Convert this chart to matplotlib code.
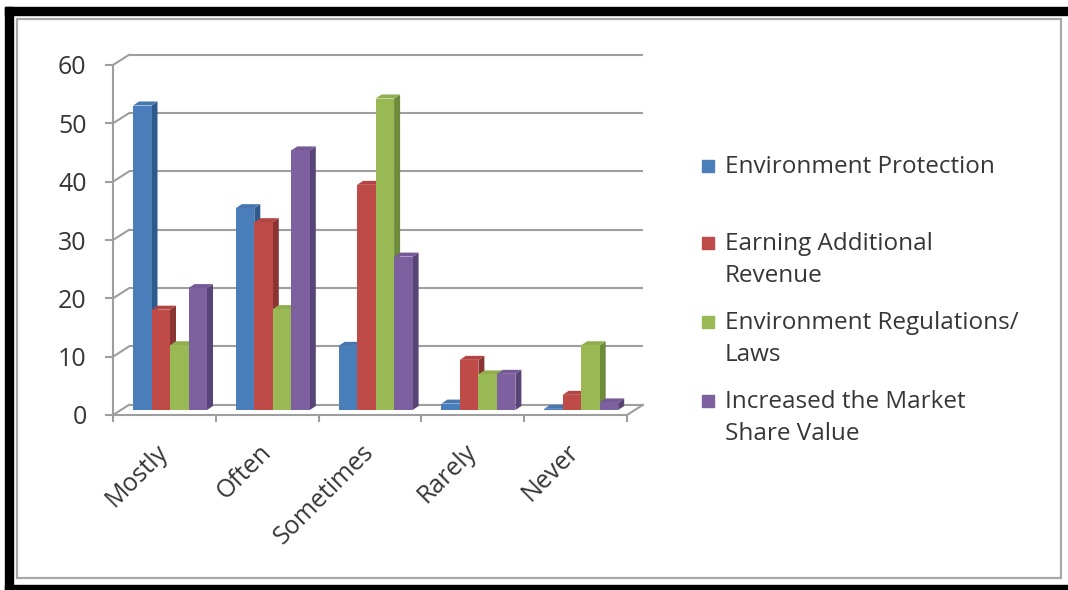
import matplotlib
matplotlib.use('Agg')
import matplotlib.pyplot as plt
from matplotlib.patches import Polygon, Rectangle

# ---------------- data ----------------
categories = ['Mostly', 'Often', 'Sometimes', 'Rarely', 'Never']
series_names = ['Environment Protection',
                'Earning Additional\nRevenue',
                'Environment Regulations/\nLaws',
                'Increased the Market\nShare Value']
env_protection = [52.2, 34.6, 11.0, 1.1, 0.2]
earning_revenue = [17.2, 32.2, 38.6, 8.6, 2.6]
env_regulations = [11.1, 17.3, 53.4, 6.1, 11.1]
market_share = [20.9, 44.5, 26.3, 6.2, 1.3]
y_ticks = [0, 10, 20, 30, 40, 50, 60]

series_values = [env_protection, earning_revenue, env_regulations, market_share]

# ---------------- style ----------------
front_colors = ['#4A7EBB', '#BE4B48', '#98B954', '#7D60A0']
side_colors = ['#2F5A8C', '#8A3532', '#6E8A3B', '#584476']
top_colors = ['#4677B0', '#B34643', '#8FAF4F', '#765A97']
grid_color = '#9E9E9E'
text_color = '#363636'

plt.rcParams['font.family'] = ['Open Sans', 'DejaVu Sans']

W, H = 1068, 590
fig = plt.figure(figsize=(W / 100, H / 100), dpi=100)
fig.patch.set_facecolor('white')


def fx(x):
    return x / W


def fy(y):
    return 1 - y / H


# outer black border (top, left, bottom)
fig.patches.append(Rectangle((fx(5), fy(15)), fx(1068) - fx(5), fy(7) - fy(15),
                             transform=fig.transFigure, color='black', zorder=-2))
fig.patches.append(Rectangle((fx(5), fy(590)), fx(13) - fx(5), fy(7) - fy(590),
                             transform=fig.transFigure, color='black', zorder=-2))
fig.patches.append(Rectangle((fx(5), fy(590)), fx(1068) - fx(5), fy(585) - fy(590),
                             transform=fig.transFigure, color='black', zorder=-2))
# inner gray frame
fig.patches.append(Rectangle((fx(17), fy(578)), fx(1061) - fx(17), fy(19) - fy(578),
                             transform=fig.transFigure, facecolor='white',
                             edgecolor='#A8A8A8', lw=1.6, zorder=-1))

# ---------------- axes ----------------
cat_px = 102.8          # pixels per category
val_px = 350 / 60.0     # pixels per value unit
ax_left, ax_right, ax_bottom, ax_top = 113, 650, 415, 50
ax = fig.add_axes([fx(ax_left), fy(ax_bottom), fx(ax_right) - fx(ax_left), fy(ax_top) - fy(ax_bottom)])
ax.set_zorder(1)
ax.set_xlim(-0.5, -0.5 + (ax_right - ax_left) / cat_px)
ax.set_ylim(0, (ax_bottom - ax_top) / val_px)
ax.patch.set_alpha(0)

n_cat = len(categories)
Dx = 16 / cat_px        # full depth offset (x)
Dy = 10.2 / val_px      # full depth offset (y)

# back wall gridlines and side wall diagonals
for v in y_ticks:
    ax.plot([-0.5 + Dx, n_cat - 0.5 + Dx], [v + Dy, v + Dy], color=grid_color, lw=1.5,
            zorder=1, clip_on=False, solid_capstyle='butt')
    ax.plot([-0.5, -0.5 + Dx], [v, v + Dy], color=grid_color, lw=1.5, zorder=1, clip_on=False)
# floor right edge
ax.plot([n_cat - 0.5, n_cat - 0.5 + Dx], [0, Dy], color=grid_color, lw=1.5, zorder=1, clip_on=False)

# spines / ticks
for s in ['top', 'right']:
    ax.spines[s].set_visible(False)
ax.spines['left'].set_bounds(0, 60)
ax.spines['bottom'].set_bounds(-0.5, n_cat - 0.5)
for s in ['left', 'bottom']:
    ax.spines[s].set_color(grid_color)
    ax.spines[s].set_linewidth(1.5)
    ax.spines[s].set_zorder(1)

ax.set_yticks(y_ticks)
ax.set_yticklabels([str(t) for t in y_ticks])
ax.tick_params(axis='y', direction='out', length=6, width=1.5, color=grid_color,
               labelsize=18, labelcolor=text_color, pad=13)

ax.set_xticks(range(n_cat))
ax.set_xticklabels(categories)
ax.set_xticks([i - 0.5 for i in range(n_cat + 1)], minor=True)
ax.tick_params(axis='x', which='major', length=0, labelsize=18, labelcolor=text_color, pad=24)
ax.tick_params(axis='x', which='minor', direction='out', length=5, width=1.5, color=grid_color)
for lbl in ax.get_xticklabels():
    lbl.set_rotation(45)
    lbl.set_ha('right')
    lbl.set_va('center')
    lbl.set_rotation_mode('anchor')

# ---------------- 3D-looking bars ----------------
bw = 18.5 / cat_px
group_off = -31.4 / cat_px
base = 5 / val_px
ddx = 6 / cat_px
ddy = 4 / val_px

for j, vals in enumerate(series_values):
    xs = [i + group_off + j * bw for i in range(n_cat)]
    bars = ax.bar(xs, vals, width=bw, bottom=base, align='edge', color=front_colors[j],
                  linewidth=0, clip_on=False)
    for i, rect in enumerate(bars):
        k = i * 4 + j
        z = 3 + 0.01 * k
        rect.set_zorder(z + 0.005)
        x0 = rect.get_x()
        x1 = x0 + rect.get_width()
        b = rect.get_y()
        t = b + rect.get_height()
        side = Polygon([(x1, b), (x1 + ddx, b + ddy), (x1 + ddx, t + ddy), (x1, t)],
                       closed=True, facecolor=side_colors[j], edgecolor='none', zorder=z, clip_on=False)
        top = Polygon([(x0, t), (x1, t), (x1 + ddx, t + ddy), (x0 + ddx, t + ddy)],
                      closed=True, facecolor=top_colors[j], edgecolor='none', zorder=z, clip_on=False)
        ax.add_patch(side)
        ax.add_patch(top)

# ---------------- legend ----------------
leg_baselines = [173, 250, 329, 408]
line_step = 32
for j, name in enumerate(series_names):
    bl = leg_baselines[j]
    fig.patches.append(Rectangle((fx(702), fy(bl - 1)), fx(714) - fx(702), fy(bl - 13) - fy(bl - 1),
                                 transform=fig.transFigure, color=front_colors[j], zorder=2))
    for n, line in enumerate(name.split('\n')):
        fig.text(fx(725), fy(bl + n * line_step), line, fontsize=17.5, color=text_color,
                 ha='left', va='baseline')

fig.savefig('out.png', dpi=100, facecolor='white')
